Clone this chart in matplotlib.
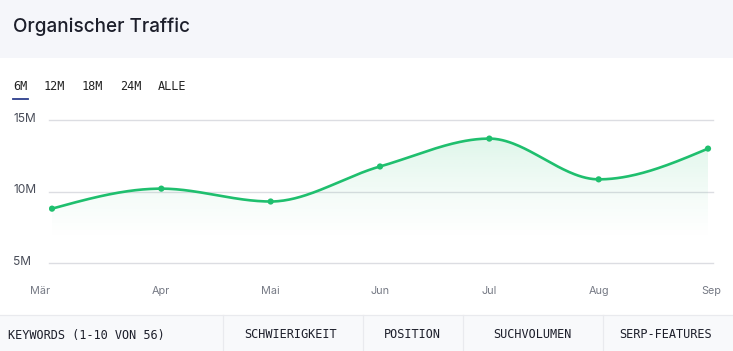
import numpy as np
import matplotlib
matplotlib.use("Agg")
import matplotlib.pyplot as plt
from matplotlib.patches import Rectangle, Polygon
from matplotlib.lines import Line2D

months = ["Mär", "Apr", "Mai", "Jun", "Jul", "Aug", "Sep"]
traffic_m = [8.8, 10.2, 9.3, 11.75, 13.7, 10.85, 13.0]
y_ticks = [5, 10, 15]
y_tick_labels = ["5M", "10M", "15M"]
tabs = ["6M", "12M", "18M", "24M", "ALLE"]
table_headers = ["KEYWORDS (1-10 VON 56)", "SCHWIERIGKEIT", "POSITION", "SUCHVOLUMEN", "SERP-FEATURES"]
title = "Organischer Traffic"

W, H = 733, 351
fig = plt.figure(figsize=(W / 100, H / 100), dpi=100)
fig.patch.set_facecolor("white")

def fx(px):
    return px / W

def fy(py):
    return 1 - py / H

GREEN = "#1fbf6e"

# header band
fig.patches.append(Rectangle((0, fy(58)), 1, 58 / H, transform=fig.transFigure,
                             facecolor="#f5f6fa", edgecolor="none", zorder=0))
fig.text(fx(13), fy(27), title, fontsize=13.6, family="Inter", color="#1d1f2b",
         va="center", ha="left", fontweight="medium")

# tabs
tab_x = [13, 44, 82, 120, 158]
for t, x in zip(tabs, tab_x):
    fig.text(fx(x), fy(86), t, fontsize=8.6, family="DejaVu Sans Mono", color="#222",
             va="center", ha="left")
fig.lines.append(Line2D([fx(13), fx(28)], [fy(99), fy(99)], transform=fig.transFigure,
                        color="#2c3e8c", lw=1.3))

# chart axes
ax = fig.add_axes([fx(49), fy(263), (713 - 49) / W, (263 - 120) / H])
x = np.arange(len(months))
ppu = (708 - 52) / 6
ax.set_xlim(-3 / ppu, 6 + 5 / ppu)
ax.set_ylim(5, 15)
for s in ax.spines.values():
    s.set_visible(False)
ax.set_xticks([])
ax.set_yticks([])
ax.patch.set_alpha(0)
for yv in y_ticks:
    ax.axhline(yv, color="#dcdde2", lw=1.0, zorder=1, clip_on=False)

# monotone cubic (Fritsch-Carlson) for smooth drawing
yv = np.array(traffic_m, dtype=float)
xv = x.astype(float)
h = np.diff(xv)
d = np.diff(yv) / h
m = np.zeros_like(yv)
for i in range(1, len(yv) - 1):
    if d[i - 1] * d[i] <= 0:
        m[i] = 0
    else:
        w1 = 2 * h[i] + h[i - 1]
        w2 = h[i] + 2 * h[i - 1]
        m[i] = (w1 + w2) / (w1 / d[i - 1] + w2 / d[i])
m[0] = (3 * d[0] - m[1]) / 2
m[-1] = (3 * d[-1] - m[-2]) / 2
xs, ys = [], []
for i in range(len(yv) - 1):
    t = np.linspace(0, 1, 60)
    h00 = 2 * t**3 - 3 * t**2 + 1
    h10 = t**3 - 2 * t**2 + t
    h01 = -2 * t**3 + 3 * t**2
    h11 = t**3 - t**2
    seg = h00 * yv[i] + h10 * h[i] * m[i] + h01 * yv[i + 1] + h11 * h[i] * m[i + 1]
    xs.extend(xv[i] + t * h[i])
    ys.extend(seg)
xs = np.array(xs)
ys = np.array(ys)

# gradient fill
poly = Polygon(np.column_stack([np.r_[xs, xs[-1], xs[0]], np.r_[ys, 5, 5]]),
               closed=True, facecolor="none", edgecolor="none")
ax.add_patch(poly)
grad = np.zeros((200, 2, 4))
rgb = matplotlib.colors.to_rgb(GREEN)
grad[..., 0], grad[..., 1], grad[..., 2] = rgb
alphas = np.clip((np.linspace(5, 15, 200) - 6.5) / (14 - 6.5), 0, 1) ** 1.3 * 0.15
grad[..., 3] = alphas[:, None]
im = ax.imshow(grad, extent=[xs[0], xs[-1], 5, 15], origin="lower", aspect="auto",
               zorder=2, interpolation="bilinear")
im.set_clip_path(poly)

ax.plot(xs, ys, color=GREEN, lw=1.9, zorder=3, solid_capstyle="round")
ax.scatter(x, traffic_m, s=20, color=GREEN, zorder=4, edgecolors="none")

# y labels
for v, lab in zip(y_ticks, y_tick_labels):
    py = 263 - (v - 5) / 10 * (263 - 120)
    fig.text(fx(13), fy(py - 1), lab, fontsize=8.6, family="Inter", color="#4a4e5a",
             va="center", ha="left")
# month labels
for i, lab in enumerate(months):
    cx = 52 + i * ppu
    if i == 0:
        px, ha = 30, "left"
    elif i == len(months) - 1:
        px, ha = 721, "right"
    else:
        px, ha = cx, "center"
    fig.text(fx(px), fy(291), lab, fontsize=7.8, family="Inter", color="#767a85",
             va="center", ha=ha)

# table header
fig.patches.append(Rectangle((0, 0), 1, fy(315), transform=fig.transFigure,
                             facecolor="#f8f9fb", edgecolor="none", zorder=0))
fig.lines.append(Line2D([0, 1], [fy(315), fy(315)], transform=fig.transFigure,
                        color="#e9eaee", lw=0.9))
for sx in [223, 363, 463, 603]:
    fig.lines.append(Line2D([fx(sx), fx(sx)], [0, fy(315)], transform=fig.transFigure,
                            color="#e9eaee", lw=0.9))
header_pos = [(8, "left"), (291, "center"), (412, "center"), (532, "center"), (666, "center")]
for lab, (px, ha) in zip(table_headers, header_pos):
    fig.text(fx(px), fy(335), lab, fontsize=8.6, family="DejaVu Sans Mono", color="#1d1f2b",
             va="center", ha=ha)

fig.savefig("out.png", dpi=100)
